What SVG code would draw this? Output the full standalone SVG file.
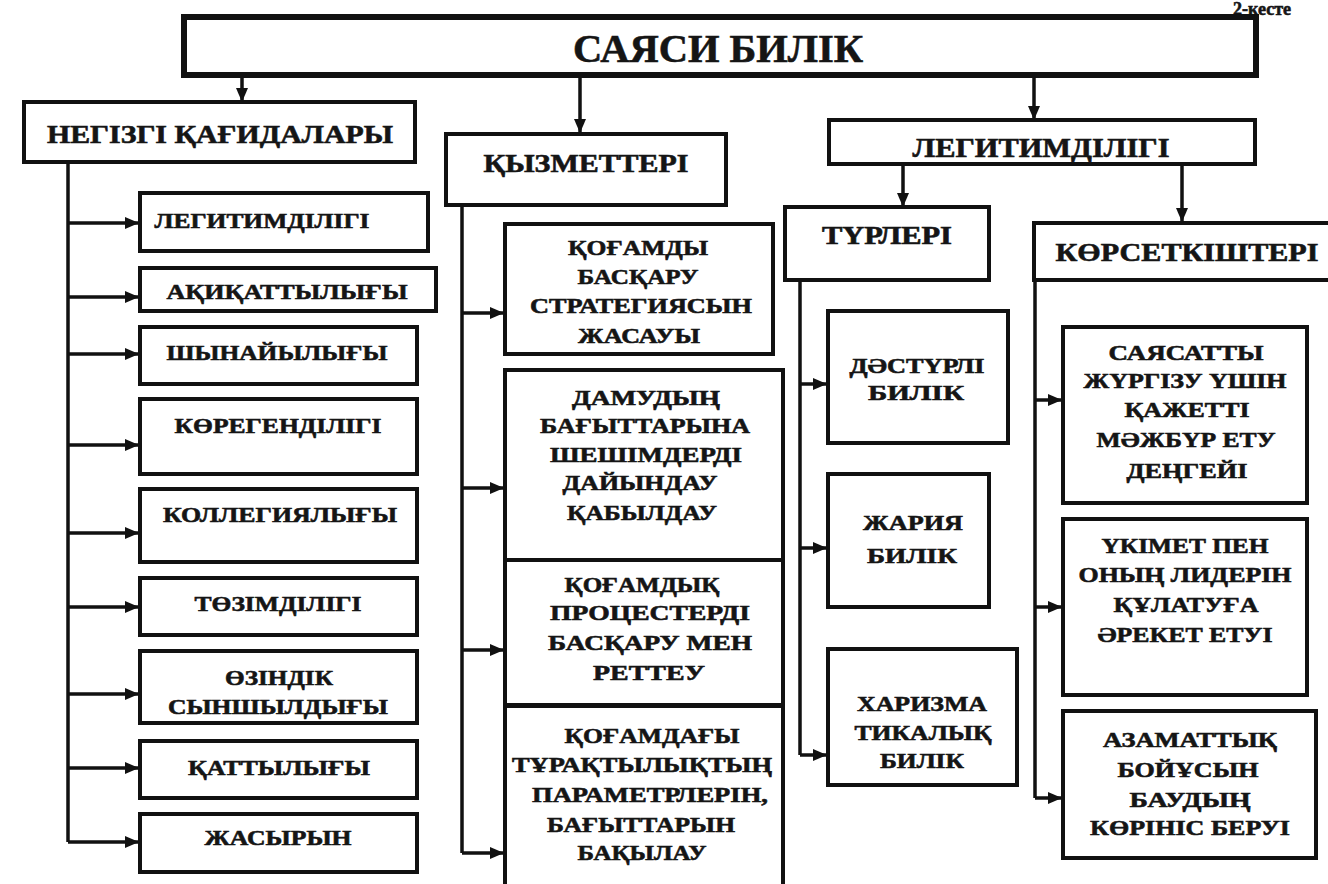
<svg xmlns="http://www.w3.org/2000/svg" width="1328" height="884" viewBox="0 0 1328 884">
<defs>
<style>
.bx{fill:#fff;stroke:#111;stroke-width:4}
.main{fill:#fff;stroke:#111;stroke-width:6}
.t{font-family:"Liberation Serif","DejaVu Serif",serif;font-weight:bold;fill:#151515;stroke:#151515;stroke-width:0.6;text-anchor:middle}
.s{font-size:22px}
.h{font-size:26px}
.c{fill:none;stroke:#111;stroke-width:3.5}
</style>
<marker id="ah" markerUnits="userSpaceOnUse" markerWidth="14" markerHeight="12" refX="13" refY="6" orient="auto">
<path d="M0,0 L14,6 L0,12 z" fill="#111"/>
</marker>
</defs>
<rect width="1328" height="884" fill="#fff"/>

<text class="t" x="1262" y="15" font-size="18">2-кесте</text>

<g id="connectors">
<path class="c" d="M242,76 V101" marker-end="url(#ah)"/>
<path class="c" d="M580,76 V132" marker-end="url(#ah)"/>
<path class="c" d="M1034,76 V119" marker-end="url(#ah)"/>
<path class="c" d="M903,164 V206" marker-end="url(#ah)"/>
<path class="c" d="M1182,164 V221" marker-end="url(#ah)"/>
<path class="c" d="M68,164 V842"/>
<path class="c" d="M68,223 H138" marker-end="url(#ah)"/>
<path class="c" d="M68,297 H138" marker-end="url(#ah)"/>
<path class="c" d="M68,354 H138" marker-end="url(#ah)"/>
<path class="c" d="M68,445 H138" marker-end="url(#ah)"/>
<path class="c" d="M68,533 H138" marker-end="url(#ah)"/>
<path class="c" d="M68,607 H138" marker-end="url(#ah)"/>
<path class="c" d="M68,694 H138" marker-end="url(#ah)"/>
<path class="c" d="M68,768 H138" marker-end="url(#ah)"/>
<path class="c" d="M68,842 H138" marker-end="url(#ah)"/>
<path class="c" d="M462,206 V853"/>
<path class="c" d="M462,313 H503" marker-end="url(#ah)"/>
<path class="c" d="M462,488 H503" marker-end="url(#ah)"/>
<path class="c" d="M462,650 H503" marker-end="url(#ah)"/>
<path class="c" d="M462,853 H503" marker-end="url(#ah)"/>
<path class="c" d="M800,281 V755"/>
<path class="c" d="M800,384 H826" marker-end="url(#ah)"/>
<path class="c" d="M800,548 H826" marker-end="url(#ah)"/>
<path class="c" d="M800,755 H826" marker-end="url(#ah)"/>
<path class="c" d="M1035,281 V798"/>
<path class="c" d="M1035,400 H1061" marker-end="url(#ah)"/>
<path class="c" d="M1035,607 H1061" marker-end="url(#ah)"/>
<path class="c" d="M1035,798 H1061" marker-end="url(#ah)"/>
</g>

<g id="n-main">
<rect class="main" x="184" y="17" width="1072" height="58"/>
<text class="t" x="718" y="62" font-size="40" textLength="290" lengthAdjust="spacingAndGlyphs">САЯСИ БИЛІК</text>
</g>

<g id="n-negizgi">
<rect class="bx" x="24" y="102" width="391" height="60"/>
<text class="t h" x="220" y="143" textLength="346" lengthAdjust="spacingAndGlyphs">НЕГІЗГІ ҚАҒИДАЛАРЫ</text>
</g>
<g id="n-qyzmet">
<rect class="bx" x="446" y="134" width="280" height="71"/>
<text class="t h" x="586" y="172" textLength="205" lengthAdjust="spacingAndGlyphs">ҚЫЗМЕТТЕРІ</text>
</g>
<g id="n-legit">
<rect class="bx" x="829" y="120" width="426" height="44"/>
<text class="t" x="1041" y="157" font-size="28" textLength="257" lengthAdjust="spacingAndGlyphs">ЛЕГИТИМДІЛІГІ</text>
</g>

<g id="n-l1"><rect class="bx" x="140" y="193" width="288" height="58"/>
<text class="t s" x="262" y="228" textLength="215" lengthAdjust="spacingAndGlyphs">ЛЕГИТИМДІЛІГІ</text></g>
<g id="n-l2"><rect class="bx" x="140" y="268" width="296" height="43"/>
<text class="t s" x="287" y="299" textLength="241" lengthAdjust="spacingAndGlyphs">АҚИҚАТТЫЛЫҒЫ</text></g>
<g id="n-l3"><rect class="bx" x="140" y="327" width="277" height="57"/>
<text class="t s" x="277" y="360" textLength="221" lengthAdjust="spacingAndGlyphs">ШЫНАЙЫЛЫҒЫ</text></g>
<g id="n-l4"><rect class="bx" x="140" y="399" width="277" height="75"/>
<text class="t s" x="278" y="433" textLength="207" lengthAdjust="spacingAndGlyphs">КӨРЕГЕНДІЛІГІ</text></g>
<g id="n-l5"><rect class="bx" x="140" y="489" width="277" height="73"/>
<text class="t s" x="280" y="522" textLength="234" lengthAdjust="spacingAndGlyphs">КОЛЛЕГИЯЛЫҒЫ</text></g>
<g id="n-l6"><rect class="bx" x="140" y="578" width="277" height="57"/>
<text class="t s" x="278" y="611" textLength="167" lengthAdjust="spacingAndGlyphs">ТӨЗІМДІЛІГІ</text></g>
<g id="n-l7"><rect class="bx" x="140" y="651" width="277" height="72"/>
<text class="t s" x="279" y="685" textLength="108" lengthAdjust="spacingAndGlyphs">ӨЗІНДІК</text>
<text class="t s" x="278" y="714" textLength="220" lengthAdjust="spacingAndGlyphs">СЫНШЫЛДЫҒЫ</text></g>
<g id="n-l8"><rect class="bx" x="140" y="741" width="277" height="57"/>
<text class="t s" x="279" y="775" textLength="182" lengthAdjust="spacingAndGlyphs">ҚАТТЫЛЫҒЫ</text></g>
<g id="n-l9"><rect class="bx" x="140" y="814" width="277" height="58"/>
<text class="t s" x="278" y="845" textLength="147" lengthAdjust="spacingAndGlyphs">ЖАСЫРЫН</text></g>

<g id="n-m1"><rect class="bx" x="505" y="224" width="268" height="130"/>
<text class="t s" x="638" y="255" textLength="140" lengthAdjust="spacingAndGlyphs">ҚОҒАМДЫ</text>
<text class="t s" x="638" y="284" textLength="121" lengthAdjust="spacingAndGlyphs">БАСҚАРУ</text>
<text class="t s" x="641" y="313" textLength="222" lengthAdjust="spacingAndGlyphs">СТРАТЕГИЯСЫН</text>
<text class="t s" x="639" y="343" textLength="122" lengthAdjust="spacingAndGlyphs">ЖАСАУЫ</text></g>
<g id="n-m2"><rect class="bx" x="505" y="370" width="278" height="190"/>
<text class="t s" x="646" y="405" textLength="148" lengthAdjust="spacingAndGlyphs">ДАМУДЫҢ</text>
<text class="t s" x="645" y="433" textLength="210" lengthAdjust="spacingAndGlyphs">БАҒЫТТАРЫНА</text>
<text class="t s" x="646" y="462" textLength="192" lengthAdjust="spacingAndGlyphs">ШЕШІМДЕРДІ</text>
<text class="t s" x="640" y="490" textLength="155" lengthAdjust="spacingAndGlyphs">ДАЙЫНДАУ</text>
<text class="t s" x="642" y="520" textLength="150" lengthAdjust="spacingAndGlyphs">ҚАБЫЛДАУ</text></g>
<g id="n-m3"><rect class="bx" x="505" y="560" width="278" height="145"/>
<text class="t s" x="642" y="592" textLength="155" lengthAdjust="spacingAndGlyphs">ҚОҒАМДЫҚ</text>
<text class="t s" x="650" y="620" textLength="200" lengthAdjust="spacingAndGlyphs">ПРОЦЕСТЕРДІ</text>
<text class="t s" x="650" y="650" textLength="204" lengthAdjust="spacingAndGlyphs">БАСҚАРУ МЕН</text>
<text class="t s" x="649" y="680" textLength="112" lengthAdjust="spacingAndGlyphs">РЕТТЕУ</text></g>
<g id="n-m4"><rect class="bx" x="505" y="706" width="278" height="190"/>
<text class="t s" x="652" y="743" textLength="175" lengthAdjust="spacingAndGlyphs">ҚОҒАМДАҒЫ</text>
<text class="t s" x="642" y="772" textLength="260" lengthAdjust="spacingAndGlyphs">ТҰРАҚТЫЛЫҚТЫҢ</text>
<text class="t s" x="650" y="802" textLength="236" lengthAdjust="spacingAndGlyphs">ПАРАМЕТРЛЕРІН,</text>
<text class="t s" x="641" y="832" textLength="188" lengthAdjust="spacingAndGlyphs">БАҒЫТТАРЫН</text>
<text class="t s" x="642" y="860" textLength="129" lengthAdjust="spacingAndGlyphs">БАҚЫЛАУ</text></g>

<g id="n-turleri"><rect class="bx" x="785" y="207" width="204" height="73"/>
<text class="t" x="887" y="244" font-size="25" textLength="130" lengthAdjust="spacingAndGlyphs">ТҮРЛЕРІ</text></g>
<g id="n-t1"><rect class="bx" x="828" y="311" width="180" height="132"/>
<text class="t s" x="917" y="373" textLength="135" lengthAdjust="spacingAndGlyphs">ДӘСТҮРЛІ</text>
<text class="t s" x="916" y="400" textLength="96" lengthAdjust="spacingAndGlyphs">БИЛІК</text></g>
<g id="n-t2"><rect class="bx" x="828" y="474" width="161" height="133"/>
<text class="t s" x="913" y="530" textLength="100" lengthAdjust="spacingAndGlyphs">ЖАРИЯ</text>
<text class="t s" x="912" y="563" textLength="90" lengthAdjust="spacingAndGlyphs">БИЛІК</text></g>
<g id="n-t3"><rect class="bx" x="828" y="649" width="189" height="136"/>
<text class="t s" x="922" y="711" textLength="130" lengthAdjust="spacingAndGlyphs">ХАРИЗМА</text>
<text class="t s" x="923" y="740" textLength="137" lengthAdjust="spacingAndGlyphs">ТИКАЛЫҚ</text>
<text class="t s" x="922" y="768" textLength="84" lengthAdjust="spacingAndGlyphs">БИЛІК</text></g>

<g id="n-korset"><rect class="bx" x="1034" y="223" width="310" height="57"/>
<text class="t" x="1187" y="261" font-size="25" textLength="263" lengthAdjust="spacingAndGlyphs">КӨРСЕТКІШТЕРІ</text></g>
<g id="n-k1"><rect class="bx" x="1063" y="327" width="244" height="176"/>
<text class="t s" x="1186" y="360" textLength="155" lengthAdjust="spacingAndGlyphs">САЯСАТТЫ</text>
<text class="t s" x="1185" y="388" textLength="203" lengthAdjust="spacingAndGlyphs">ЖҮРГІЗУ ҮШІН</text>
<text class="t s" x="1187" y="417" textLength="125" lengthAdjust="spacingAndGlyphs">ҚАЖЕТТІ</text>
<text class="t s" x="1186" y="447" textLength="179" lengthAdjust="spacingAndGlyphs">МӘЖБҮР ЕТУ</text>
<text class="t s" x="1187" y="478" textLength="121" lengthAdjust="spacingAndGlyphs">ДЕҢГЕЙІ</text></g>
<g id="n-k2"><rect class="bx" x="1063" y="519" width="244" height="176"/>
<text class="t s" x="1185" y="553" textLength="167" lengthAdjust="spacingAndGlyphs">ҮКІМЕТ ПЕН</text>
<text class="t s" x="1185" y="582" textLength="213" lengthAdjust="spacingAndGlyphs">ОНЫҢ ЛИДЕРІН</text>
<text class="t s" x="1186" y="612" textLength="145" lengthAdjust="spacingAndGlyphs">ҚҰЛАТУҒА</text>
<text class="t s" x="1185" y="642" textLength="175" lengthAdjust="spacingAndGlyphs">ӘРЕКЕТ ЕТУІ</text></g>
<g id="n-k3"><rect class="bx" x="1063" y="711" width="253" height="147"/>
<text class="t s" x="1190" y="747" textLength="174" lengthAdjust="spacingAndGlyphs">АЗАМАТТЫҚ</text>
<text class="t s" x="1188" y="777" textLength="141" lengthAdjust="spacingAndGlyphs">БОЙҰСЫН</text>
<text class="t s" x="1190" y="807" textLength="121" lengthAdjust="spacingAndGlyphs">БАУДЫҢ</text>
<text class="t s" x="1190" y="835" textLength="200" lengthAdjust="spacingAndGlyphs">КӨРІНІС БЕРУІ</text></g>
</svg>
